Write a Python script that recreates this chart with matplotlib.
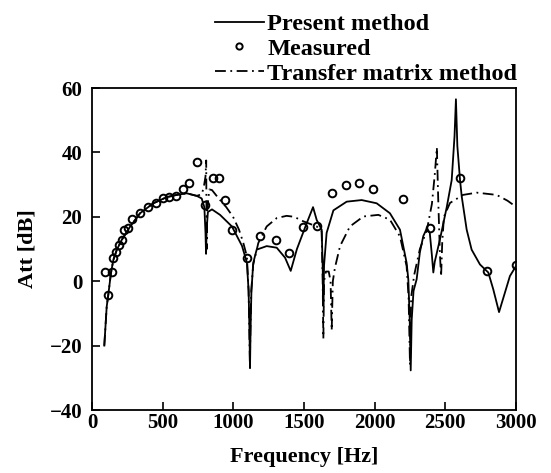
import matplotlib
matplotlib.use("Agg")
import matplotlib.pyplot as plt

plt.rcParams['font.family'] = ['Liberation Serif', 'DejaVu Serif']
plt.rcParams['font.weight'] = 'bold'

# Present method (solid line)
present_f = [87, 104, 115, 134, 151, 175, 210, 269, 340, 434, 528, 599, 670, 741, 776,
             795, 803, 807, 811, 820, 849, 906, 990, 1061, 1096, 1108, 1114, 1118, 1122,
             1128, 1141, 1165, 1236, 1307, 1366, 1406, 1450, 1519, 1564, 1590, 1625, 1632,
             1637, 1642, 1660, 1708, 1802, 1908, 2014, 2108, 2179, 2226, 2238, 2248, 2255,
             2262, 2275, 2297, 2320, 2344, 2370, 2390, 2405, 2415, 2425, 2462, 2510, 2545,
             2565, 2575, 2585, 2604, 2616, 2651, 2686, 2745, 2804, 2839, 2880, 2922, 2957,
             3000]
present_att = [-20, -7.9, -4.3, 2.5, 6.6, 9.7, 12.8, 16.9, 21.1, 24.2, 26.1, 26.8, 27.3,
               26.5, 25.7, 23, 15, 8.5, 16, 21.5, 22.3, 20.6, 17, 11, 5.8, -3, -15, -27,
               -15, -3, 5.7, 9.8, 10.9, 10.4, 7.3, 3.2, 10, 18, 23, 19, 16, 5, -7.7, 5, 15,
               22, 24.7, 25.2, 24.2, 21.1, 16, 5.7, 0.6, -12, -27.7, -12, -3, 0.6, 9, 14,
               16.5, 15, 8, 2.7, 6, 13, 23, 31.4, 45, 56.5, 42, 31.4, 26.3, 16, 9.8, 5.2,
               2.7, -2.5, -9.6, -3.5, 1.6, 4.7]

# Transfer matrix method (dashed line)
transfer_f = [87, 104, 115, 134, 151, 175, 210, 269, 340, 434, 528, 599, 670, 741, 776,
              790, 803, 808, 810, 812, 815, 830, 849, 900, 950, 998, 1040, 1070, 1096, 1108,
              1113, 1117, 1121, 1127, 1140, 1177, 1236, 1307, 1377, 1430, 1495, 1590, 1625,
              1632, 1637, 1642, 1655, 1675, 1688, 1696, 1704, 1719, 1755, 1825, 1920, 2026,
              2108, 2179, 2226, 2240, 2250, 2258, 2280, 2320, 2370, 2405, 2425, 2440, 2450,
              2462, 2470, 2478, 2490, 2533, 2625, 2722, 2863, 2940, 2981, 3000]
transfer_att = [-20, -7.9, -4.3, 2.5, 6.6, 9.7, 12.8, 16.9, 21.1, 24.2, 26.1, 26.8, 27.3,
                26.5, 27, 29, 32.5, 37.5, 20, 10, 22, 28.5, 28.3, 25.5, 23, 20, 16, 12, 7.7,
                -3, -15, -26, -15, -3, 5, 11.9, 17, 19.6, 20.3, 20, 18.6, 17, 15.5, 0, -17.8,
                0, 3, 3, 0, -15.3, 0, 4.2, 10.9, 17, 20.1, 20.6, 19.1, 13.9, 4.7, -5, -26, -5,
                2, 10, 16, 24, 33, 41.5, 25, 8, 1.5, 12, 20, 24.3, 26.8, 27.5, 26.8, 25, 23.7,
                23]

# Measured points
meas_f = [92, 115, 139, 151, 170, 193, 210, 229, 252, 285, 340, 399, 451, 500, 547, 594,
          641, 689, 741, 800, 854, 901, 941, 992, 1094, 1189, 1300, 1396, 1492, 1590, 1696,
          1796, 1891, 1990, 2197, 2391, 2604, 2792, 3000]
meas_att = [3.0, -4.3, 3.0, 7.1, 9.1, 11.1, 12.9, 15.8, 16.5, 19.3, 21.1, 23.0, 24.4, 25.7,
            26.1, 26.5, 28.5, 30.4, 37.0, 23.7, 31.9, 31.9, 25.2, 15.8, 7.3, 13.9, 12.9,
            8.8, 16.7, 17.0, 27.5, 29.8, 30.4, 28.7, 25.5, 16.4, 32.2, 3.2, 5.0]

fig = plt.figure(figsize=(5.51, 4.73), dpi=100)
ax = fig.add_axes([92 / 551, 1 - 410 / 473, 424 / 551, 322 / 473])

ax.plot(present_f, present_att, color='black', lw=1.3, label='Present method')
ax.plot(meas_f, meas_att, 'o', ms=5.5, mfc='none', mec='black', mew=1.4,
        label='Measured', zorder=5)
ax.plot(transfer_f, transfer_att, color='black', lw=1.3, ls=(0, (6, 2.5, 1, 2.5)),
        label='Transfer matrix method')

ax.set_xlim(0, 3000)
ax.set_ylim(-40, 60)
ax.set_xticks([0, 500, 1000, 1500, 2000, 2500, 3000])
ax.set_yticks([-40, -20, 0, 20, 40, 60])
ax.tick_params(direction='in', length=6, width=1.2, labelsize=15,
               top=False, right=False)
ax.tick_params(axis='x', pad=2)
ax.tick_params(axis='y', pad=7)
for s in ax.spines.values():
    s.set_linewidth(1.3)

ax.set_xlabel('Frequency [Hz]', fontsize=16, fontweight='bold', labelpad=10)
ax.set_ylabel('Att [dB]', fontsize=16, fontweight='bold', labelpad=9)

leg = fig.legend(loc='upper left', bbox_to_anchor=(215 / 551, 1 - 13 / 473),
                 frameon=False, handlelength=2.0, handletextpad=0.15,
                 labelspacing=0.12, borderpad=0, borderaxespad=0, numpoints=1,
                 prop={'family': 'Liberation Serif', 'weight': 'bold', 'size': 17.5})
leg.legend_handles[1].set_markersize(4.5)

fig.savefig('out.png', dpi=100)
